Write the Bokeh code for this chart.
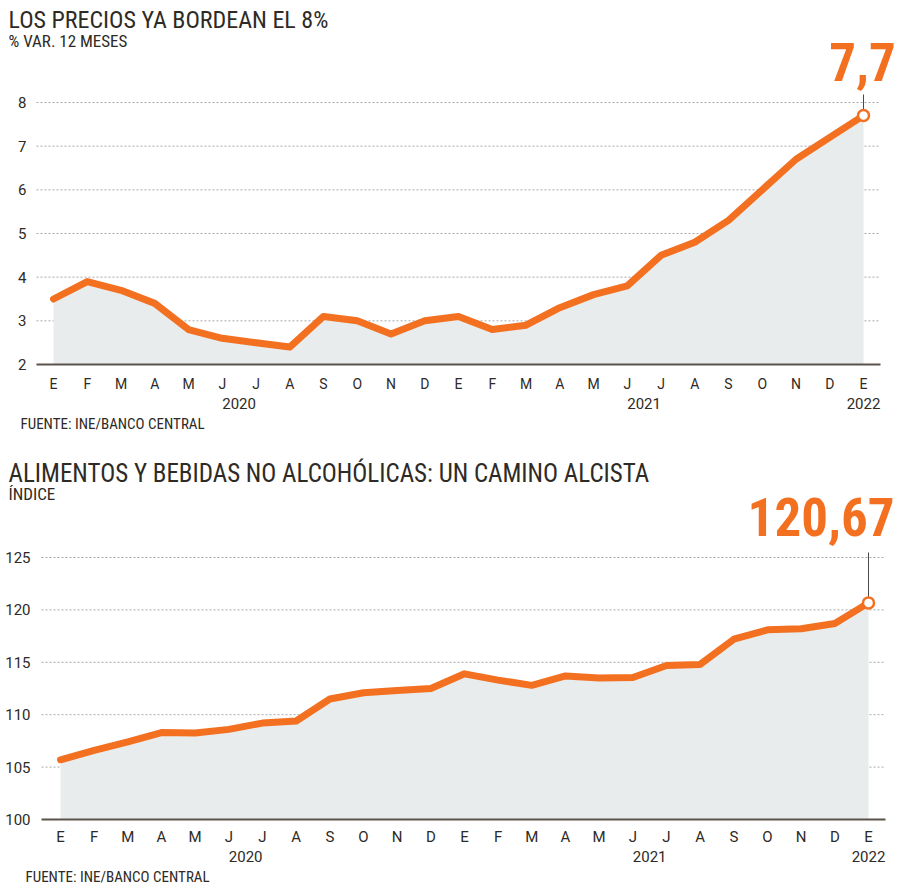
from bokeh.plotting import figure
from bokeh.models import Range1d, FixedTicker, LinearAxis, Label, Title
from bokeh.layouts import column
from bokeh.embed import file_html
from bokeh.resources import INLINE

# ---------------- data ----------------
months = ["E", "F", "M", "A", "M", "J", "J", "A", "S", "O", "N", "D",
          "E", "F", "M", "A", "M", "J", "J", "A", "S", "O", "N", "D", "E"]
year_ticks = [5.5, 17.5, 24]
year_labels = ["2020", "2021", "2022"]

ipc = [3.5, 3.9, 3.7, 3.4, 2.8, 2.6, 2.5, 2.4, 3.1, 3.0, 2.7, 3.0,
       3.1, 2.8, 2.9, 3.3, 3.6, 3.8, 4.5, 4.8, 5.3, 6.0, 6.7, 7.2, 7.7]
ipc_ticks = [2, 3, 4, 5, 6, 7, 8]

alim = [105.7, 106.6, 107.4, 108.3, 108.25, 108.6, 109.2, 109.4, 111.5, 112.1, 112.3, 112.5,
        113.9, 113.3, 112.8, 113.7, 113.5, 113.55, 114.7, 114.8, 117.2, 118.1, 118.2, 118.7, 120.67]
alim_ticks = [100, 105, 110, 115, 120, 125]

# ---------------- style ----------------
ORANGE = "#f37021"
FILL = "#e8eced"
DARK = "#2e2a25"
AXIS = "#5b5349"
GRID = "#a8a8a8"
NARROW = "'Liberation Sans Narrow', 'Roboto Condensed', Roboto, sans-serif"
SANS = "Roboto"
BIG = 53


def fix(py, size):
    # empirical baseline correction of the svg text
    return py - 0.357 * size


def make_chart(vals, yticks, ppu, H, axis_py, x0_px, step, grid_l, grid_r,
               ylab_right, tick_size, month_standoff, year_standoff,
               title, title_size, title_base, subtitle, sub_base, footer, foot_x, foot_standoff,
               big, big_x, big_base, big_align, lead_top):
    n = len(vals)
    xs = list(range(n))
    base = yticks[0]
    B = axis_py + 2

    def dx(px):
        return (px - x0_px) / step

    def dy(py):
        return base + (axis_py - py) / ppu

    p = figure(width=900, height=H, output_backend="svg", toolbar_location=None,
               x_range=Range1d(dx(0), dx(900)), y_range=Range1d(dy(B), dy(0)),
               min_border_left=0, min_border_right=0,
               min_border_top=0, min_border_bottom=H - B)
    p.outline_line_color = None
    p.background_fill_color = "white"
    p.border_fill_color = "white"

    # month axis
    xa = p.xaxis[0]
    xa.ticker = FixedTicker(ticks=xs)
    xa.major_label_overrides = {i: m for i, m in enumerate(months)}
    xa.axis_line_color = None
    xa.major_tick_line_color = None
    xa.minor_tick_line_color = None
    xa.major_tick_out = 0
    xa.major_tick_in = 0
    xa.major_label_standoff = month_standoff
    xa.major_label_text_font = SANS
    xa.major_label_text_font_size = f"{tick_size}px"
    xa.major_label_text_color = DARK

    # year axis
    ya2 = LinearAxis(ticker=FixedTicker(ticks=year_ticks),
                     major_label_overrides={t: l for t, l in zip(year_ticks, year_labels)},
                     axis_line_color=None, major_tick_line_color=None,
                     minor_tick_line_color=None, major_tick_out=0, major_tick_in=0,
                     major_label_standoff=year_standoff,
                     major_label_text_font=SANS, major_label_text_font_size="15px",
                     major_label_text_color=DARK)
    p.add_layout(ya2, "below")

    # value axis
    ya = p.yaxis[0]
    ya.ticker = FixedTicker(ticks=yticks)
    ya.axis_line_color = None
    ya.major_tick_line_color = None
    ya.minor_tick_line_color = None
    ya.major_tick_out = 0
    ya.major_tick_in = 0
    ya.major_label_standoff = -ylab_right
    ya.major_label_text_font = SANS
    ya.major_label_text_font_size = "15px"
    ya.major_label_text_color = DARK

    p.xgrid.visible = False
    p.ygrid.visible = False

    # dashed gridlines at the tick values, between the plot edges
    gl = [t for t in yticks[1:]]
    p.segment(x0=[dx(grid_l)] * len(gl), y0=gl, x1=[dx(grid_r)] * len(gl), y1=gl,
              line_color=GRID, line_dash="2 2", line_width=1)

    # area + line
    p.varea(x=xs, y1=[base] * n, y2=vals, fill_color=FILL)
    p.segment(x0=[dx(grid_l)], y0=[base], x1=[dx(grid_r)], y1=[base],
              line_color=AXIS, line_width=2)
    p.line(xs, vals, line_color=ORANGE, line_width=7, line_join="round", line_cap="round")
    p.segment(x0=[xs[-1]], y0=[vals[-1]], x1=[xs[-1]], y1=[dy(lead_top)],
              line_color="#4a4a4a", line_width=1)
    p.scatter(x=[xs[-1]], y=[vals[-1]], size=11, fill_color="white",
              line_color=ORANGE, line_width=2.5)

    # texts
    p.add_layout(Label(x=dx(8), y=dy(fix(title_base, title_size)), text=title, text_font=NARROW,
                       text_font_size=f"{title_size}px", text_color=DARK,
                       text_baseline="alphabetic"))
    p.add_layout(Label(x=dx(8), y=dy(fix(sub_base, 17)), text=subtitle, text_font=NARROW,
                       text_font_size="17px", text_color=DARK, text_baseline="alphabetic"))
    p.add_layout(Label(x=dx(big_x), y=dy(fix(big_base, BIG)), text=big, text_font=NARROW,
                       text_font_size=f"{BIG}px", text_font_style="bold", text_color=ORANGE,
                       text_align=big_align, text_baseline="alphabetic"))
    p.add_layout(Title(text=footer, align="left", offset=foot_x, standoff=foot_standoff,
                       text_font=NARROW, text_font_size="15px", text_font_style="normal",
                       text_color=DARK), "below")
    return p


p1 = make_chart(ipc, ipc_ticks, 262 / 6, H=445, axis_py=364, x0_px=53, step=810 / 24,
                grid_l=36, grid_r=880, ylab_right=26, tick_size=14,
                month_standoff=9, year_standoff=3,
                title="LOS PRECIOS YA BORDEAN EL 8%", title_size=24, title_base=28,
                subtitle="% VAR. 12 MESES", sub_base=47,
                footer="FUENTE: INE/BANCO CENTRAL", foot_x=20, foot_standoff=3,
                big="7,7", big_x=862, big_base=80, big_align="center", lead_top=94)

p2 = make_chart(alim, alim_ticks, 262 / 25, H=446, axis_py=374, x0_px=60, step=808 / 24,
                grid_l=41, grid_r=885, ylab_right=30, tick_size=15,
                month_standoff=6, year_standoff=2,
                title="ALIMENTOS Y BEBIDAS NO ALCOHÓLICAS: UN CAMINO ALCISTA", title_size=25,
                title_base=37, subtitle="ÍNDICE", sub_base=55,
                footer="FUENTE: INE/BANCO CENTRAL", foot_x=25, foot_standoff=3,
                big="120,67", big_x=894, big_base=90, big_align="right", lead_top=107)

layout = column(p1, p2, spacing=0)
open("out.html", "w").write(file_html(layout, INLINE))
